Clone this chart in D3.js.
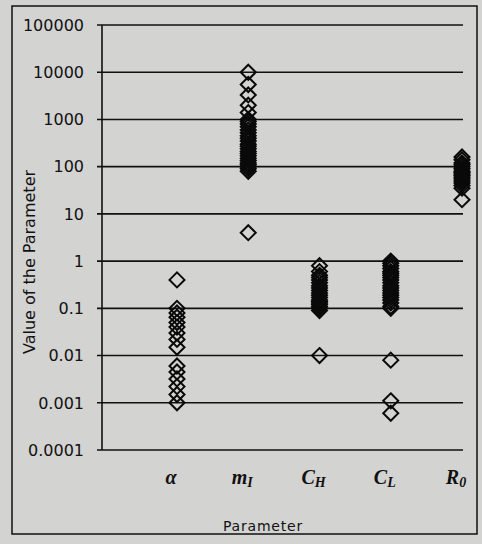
<!DOCTYPE html>
<html><head><meta charset="utf-8">
<script src="https://cdn.jsdelivr.net/npm/d3@7"></script>
<style>
html,body{margin:0;padding:0;background:#d3d3d1;}
svg{display:block;}
</style></head><body>
<svg id="chart" width="482" height="544"></svg>
<script>
const categories = ["a", "mI", "CH", "CL", "R0"];
const yTicks = [0.0001, 0.001, 0.01, 0.1, 1, 10, 100, 1000, 10000, 100000];
const yTickLabels = ["0.0001", "0.001", "0.01", "0.1", "1", "10", "100", "1000", "10000", "100000"];
const valuesA  = [0.4, 0.1, 0.08, 0.065, 0.05, 0.04, 0.03, 0.022, 0.015, 0.006, 0.0045, 0.0032, 0.0022, 0.0015, 0.001];
const valuesMI = [4, 10000, 5500, 3300, 2000, 1400, 1000, 900, 800, 700, 600, 520, 450, 400, 350, 300, 270, 240, 210, 190, 170, 150, 135, 120, 110, 100, 90, 80];
const valuesCH = [0.01, 0.8, 0.6, 0.5, 0.45, 0.4, 0.35, 0.3, 0.27, 0.24, 0.21, 0.19, 0.17, 0.15, 0.14, 0.13, 0.12, 0.11, 0.1, 0.09];
const valuesCL = [0.0006, 0.0011, 0.008, 1, 0.9, 0.8, 0.7, 0.6, 0.55, 0.5, 0.45, 0.4, 0.35, 0.3, 0.27, 0.24, 0.21, 0.19, 0.17, 0.15, 0.13, 0.11, 0.1];
const valuesR0 = [160, 140, 120, 110, 100, 90, 80, 75, 70, 65, 60, 55, 50, 45, 40, 35, 20];
const seriesValues = [valuesA, valuesMI, valuesCH, valuesCL, valuesR0];

const svg = d3.select("#chart");
const axisX = 102, rightX = 463, topY = 25, botY = 450;

// frame
svg.append("rect").attr("x", 12).attr("y", 6).attr("width", 465).attr("height", 528)
  .attr("fill", "none").attr("stroke", "#111").attr("stroke-width", 1.5);

const y = d3.scaleLog().domain([0.0001, 100000]).range([botY, topY]);
const x = d3.scalePoint().domain(categories).range([177, 462]);

// gridlines + ticks
svg.append("g").selectAll("line").data(yTicks).join("line")
  .attr("x1", axisX - 5).attr("x2", rightX)
  .attr("y1", d => y(d)).attr("y2", d => y(d))
  .attr("stroke", "#111").attr("stroke-width", 1.6);

// y axis line
svg.append("line").attr("x1", axisX).attr("x2", axisX).attr("y1", topY).attr("y2", botY)
  .attr("stroke", "#111").attr("stroke-width", 1.6);

// tick labels
svg.append("g").selectAll("text").data(yTicks).join("text")
  .attr("x", 84).attr("y", d => y(d)).attr("dy", "0.36em")
  .attr("text-anchor", "end")
  .attr("font-family", "'DejaVu Sans', sans-serif").attr("font-size", 16)
  .attr("fill", "#111")
  .text((d, i) => yTickLabels[i]);

// y title
svg.append("text")
  .attr("transform", `translate(35,262) rotate(-90)`)
  .attr("text-anchor", "middle")
  .attr("font-family", "'DejaVu Sans', sans-serif").attr("font-size", 16)
  .attr("fill", "#111")
  .text("Value of the Parameter");

// points
const diamond = s => `M0,${-s}L${s},0L0,${s}L${-s},0Z`;
const pts = [];
categories.forEach((c, i) => seriesValues[i].forEach(v => pts.push({c, v})));
svg.append("g").selectAll("path").data(pts).join("path")
  .attr("transform", d => `translate(${x(d.c)},${y(d.v)})`)
  .attr("d", diamond(7.5))
  .attr("fill", "none").attr("stroke", "#0a0a0a").attr("stroke-width", 2);

// x labels
const labels = [
  {c: "a", main: "α", sub: ""},
  {c: "mI", main: "m", sub: "I"},
  {c: "CH", main: "C", sub: "H"},
  {c: "CL", main: "C", sub: "L"},
  {c: "R0", main: "R", sub: "0"}
];
const xl = svg.append("g");
labels.forEach(l => {
  const t = xl.append("text")
    .attr("x", x(l.c) - 6).attr("y", 484)
    .attr("text-anchor", "middle")
    .attr("font-family", "'Liberation Serif', serif").attr("font-style", "italic")
    .attr("font-weight", "bold").attr("font-size", 20).attr("fill", "#111");
  t.append("tspan").text(l.main);
  if (l.sub) t.append("tspan").attr("font-size", 14).attr("dy", 3).text(l.sub);
});

// x title
svg.append("text").attr("x", 263).attr("y", 531)
  .attr("text-anchor", "middle")
  .attr("font-family", "'DejaVu Sans', sans-serif").attr("font-size", 14)
  .attr("letter-spacing", 0.8).attr("fill", "#111")
  .text("Parameter");
</script>
</body></html>
